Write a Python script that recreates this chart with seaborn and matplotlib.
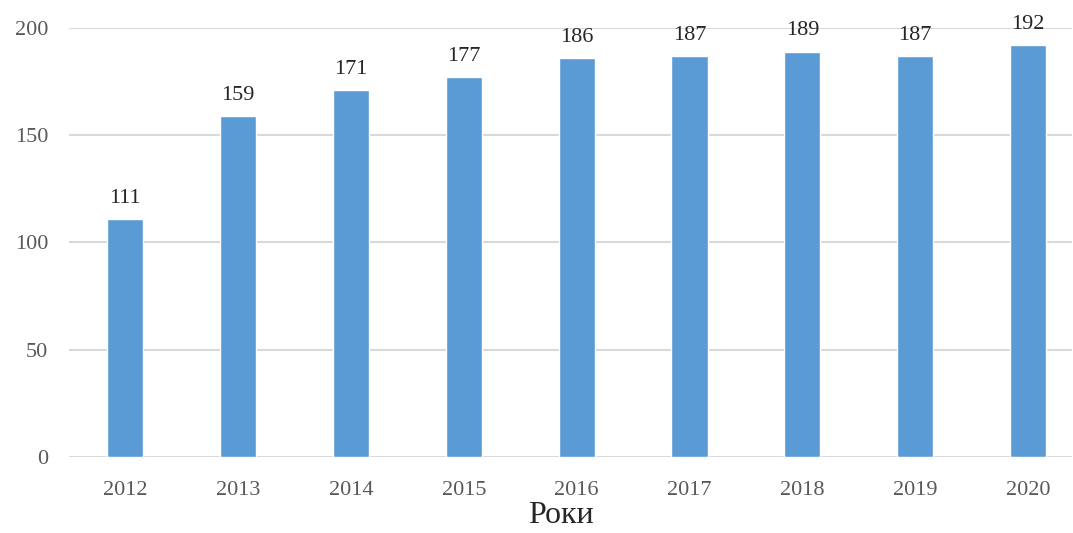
import matplotlib
matplotlib.use("Agg")
import matplotlib.pyplot as plt
import seaborn as sns
import pandas as pd

years = ["2012", "2013", "2014", "2015", "2016", "2017", "2018", "2019", "2020"]
values = [111, 159, 171, 177, 186, 187, 189, 187, 192]
y_ticks = [0, 50, 100, 150, 200]
x_title = "Роки"

sns.set_theme(style="white")
plt.rcParams["font.family"] = ["Liberation Serif", "DejaVu Serif"]

df = pd.DataFrame({"year": years, "value": values})

fig = plt.figure(figsize=(10.73, 5.33), dpi=100)
ax = fig.add_axes([0.0643, 0.1426, 0.9347, 0.8049])

sns.barplot(data=df, x="year", y="value", color="#5B9BD5", saturation=1,
            width=0.32, ax=ax, zorder=3)

ax.set_ylim(0, 200)
ax.set_xlim(-0.5, 8.39)
ax.set_yticks(y_ticks)
ax.yaxis.grid(True, color="#D9D9D9", linewidth=1.5, zorder=0)
ax.set_axisbelow(True)
for s in ax.spines.values():
    s.set_visible(False)

ax.tick_params(axis="both", length=0, labelsize=16, colors="#595959")
ax.tick_params(axis="x", pad=17)
ax.tick_params(axis="y", pad=15)
ax.set_ylabel("")
ax.set_xlabel(x_title, fontsize=23, color="#262626")
ax.xaxis.set_label_coords(0.49, -0.137, transform=ax.transAxes)
ax.xaxis.label.set_va("center")

for i, v in enumerate(values):
    ax.annotate(f"{v}", (i, v), xytext=(0, 8), textcoords="offset points",
                ha="center", va="bottom", fontsize=16, color="#262626",
                annotation_clip=False)

fig.savefig("out.png", dpi=100)
